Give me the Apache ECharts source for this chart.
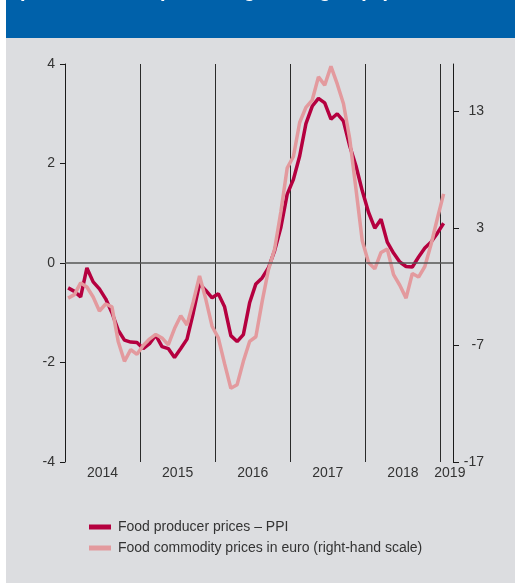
<!DOCTYPE html>
<html>
<head>
<meta charset="utf-8">
<script src="https://cdn.jsdelivr.net/npm/echarts@6/dist/echarts.min.js"></script>
<style>
  html, body { margin: 0; padding: 0; background: #ffffff; }
  #main { width: 515px; height: 583px; }
</style>
</head>
<body>
<div id="main"></div>
<script>
// 数据：2014年1月 至 2019年1月，月度
var startYear = 2014;
var yearLabels = ['2014', '2015', '2016', '2017', '2018', '2019'];
var yearLabelPos = [6, 18, 30, 42, 54, 61.5];

// 食品生产者价格 PPI（左轴）
var ppi = [
  -0.5, -0.57, -0.68, -0.1, -0.38, -0.52, -0.72, -1.0, -1.35, -1.55, -1.59, -1.6,
  -1.72, -1.62, -1.45, -1.68, -1.72, -1.9, -1.72, -1.53, -1.0, -0.42, -0.55, -0.7,
  -0.62, -0.88, -1.46, -1.58, -1.44, -0.8, -0.42, -0.3, -0.1, 0.25, 0.72, 1.38,
  1.68, 2.15, 2.8, 3.15, 3.31, 3.22, 2.89, 3.0, 2.85, 2.35, 1.95, 1.45,
  1.02, 0.7, 0.88, 0.42, 0.2, 0.02, -0.07, -0.08, 0.12, 0.3, 0.42, 0.6,
  0.8
];

// 食品大宗商品价格（欧元，右轴）
var commodity = [
  -3.0, -2.7, -1.7, -2.05, -2.9, -4.1, -3.5, -3.75, -6.7, -8.4, -7.4, -7.8,
  -7.05, -6.5, -6.1, -6.4, -7.0, -5.6, -4.5, -5.3, -3.3, -1.1, -3.1, -5.4,
  -6.4, -8.6, -10.7, -10.4, -8.4, -6.7, -6.3, -3.3, -0.6, 1.2, 4.4, 8.1,
  9.1, 12.0, 13.3, 13.9, 15.9, 15.2, 16.8, 15.3, 13.6, 10.6, 6.3, 1.9,
  0.05, -0.5, 0.9, 1.2, -1.0, -1.9, -3.0, -0.9, -1.2, -0.3, 1.6, 3.8,
  5.9
];

var leftTicks = [-4, -2, 0, 2, 4];
var rightTicks = [-17, -7, 3, 13];

var nameA = 'Food producer prices \u2013 PPI';
var nameB = 'Food commodity prices in euro (right-hand scale)';

// 每个点放在月份中间
function toPoints(arr) {
  return arr.map(function (v, i) { return [i + 0.5, v]; });
}

var font = 'Liberation Sans, Arial, sans-serif';

var myChart = echarts.init(document.getElementById('main'));

var option = {
  backgroundColor: '#ffffff',
  animation: false,
  graphic: [
    { type: 'rect', left: 6, top: 0, shape: { width: 509, height: 583 }, style: { fill: '#dcdde0' }, z: -10 },
    { type: 'rect', left: 6, top: 0, shape: { width: 509, height: 38 }, style: { fill: '#0061aa' }, z: -9 },
    {
      type: 'text', x: 20, y: 1, z: -8,
      style: {
        text: 'prices, annual percentage changes (%)',
        fill: '#ffffff', font: 'bold 20px ' + font,
        verticalAlign: 'bottom'
      }
    }
  ],
  grid: { left: 65, right: 62, top: 64, bottom: 121 },
  legend: {
    orient: 'vertical',
    left: 84,
    top: 515,
    itemWidth: 22,
    itemHeight: 5,
    itemGap: 7,
    icon: 'rect',
    data: [nameA, nameB],
    textStyle: { fontSize: 14, color: '#333333', fontFamily: font, padding: [0, 0, 0, 2] }
  },
  xAxis: {
    type: 'value',
    min: 0,
    max: 62,
    interval: 12,
    axisLine: { show: false },
    axisTick: { show: false },
    splitLine: { show: true, lineStyle: { color: '#2a2a2a', width: 1 } },
    axisLabel: {
      customValues: yearLabelPos,
      margin: 4,
      color: '#333333',
      fontSize: 14,
      fontFamily: font,
      formatter: function (v) {
        var k = yearLabelPos.indexOf(v);
        return k >= 0 ? yearLabels[k] : '';
      }
    }
  },
  yAxis: [
    {
      type: 'value',
      min: -4,
      max: 4,
      interval: 2,
      axisLine: { show: true, lineStyle: { color: '#1a1a1a', width: 1 } },
      axisTick: { show: true, length: 5, lineStyle: { color: '#1a1a1a' } },
      splitLine: { show: false },
      axisLabel: { margin: 10, color: '#333333', fontSize: 14, fontFamily: font }
    },
    {
      type: 'value',
      min: -17,
      max: 17,
      interval: 10,
      position: 'right',
      axisLine: { show: true, lineStyle: { color: '#1a1a1a', width: 1 } },
      axisTick: { show: true, length: 6, customValues: rightTicks, lineStyle: { color: '#1a1a1a' } },
      splitLine: { show: false },
      axisLabel: {
        customValues: rightTicks,
        align: 'right',
        margin: 31,
        color: '#333333',
        fontSize: 14,
        fontFamily: font
      }
    }
  ],
  series: [
    {
      name: nameA,
      type: 'line',
      yAxisIndex: 0,
      data: toPoints(ppi),
      symbol: 'none',
      color: '#b5003f',
      lineStyle: { width: 3.5, color: '#b5003f' },
      markLine: {
        silent: true,
        symbol: ['none', 'none'],
        label: { show: false },
        lineStyle: { color: '#555555', width: 1.5, type: 'solid' },
        data: [{ yAxis: 0 }]
      }
    },
    {
      name: nameB,
      type: 'line',
      yAxisIndex: 1,
      data: toPoints(commodity),
      symbol: 'none',
      color: '#e39a9e',
      lineStyle: { width: 3.5, color: '#e39a9e' }
    }
  ]
};

myChart.setOption(option);
</script>
</body>
</html>
